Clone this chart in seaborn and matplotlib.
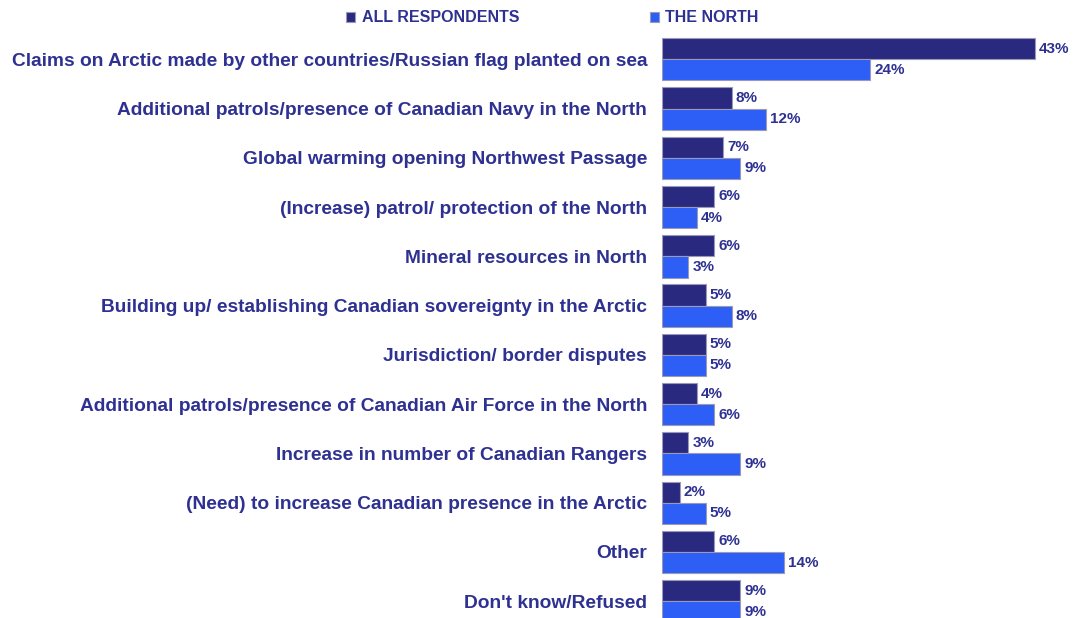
import pandas as pd
import matplotlib
matplotlib.use("Agg")
import matplotlib.pyplot as plt
import seaborn as sns

categories = [
    "Claims on Arctic made by other countries/Russian flag planted on sea",
    "Additional patrols/presence of Canadian Navy in the North",
    "Global warming opening Northwest Passage",
    "(Increase) patrol/ protection of the North",
    "Mineral resources in North",
    "Building up/ establishing Canadian sovereignty in the Arctic",
    "Jurisdiction/ border disputes",
    "Additional patrols/presence of Canadian Air Force in the North",
    "Increase in number of Canadian Rangers",
    "(Need) to increase Canadian presence in the Arctic",
    "Other",
    "Don't know/Refused",
]
all_respondents = [43, 8, 7, 6, 6, 5, 5, 4, 3, 2, 6, 9]
the_north = [24, 12, 9, 4, 3, 8, 5, 6, 9, 5, 14, 9]
groups = ["ALL RESPONDENTS", "THE NORTH"]

df = pd.DataFrame({
    "category": categories * 2,
    "value": all_respondents + the_north,
    "group": [groups[0]] * len(categories) + [groups[1]] * len(categories),
})

text_color = "#2e3192"
palette = {groups[0]: "#2a2980", groups[1]: "#2d5ef5"}

sns.set_theme(style="white")
plt.rcParams["font.family"] = ["Liberation Sans", "DejaVu Sans"]
plt.rcParams["font.weight"] = "bold"

fig = plt.figure(figsize=(10.77, 6.18), dpi=100)
ax = fig.add_axes([0.615, 0.0, 0.378, 0.944])

sns.barplot(data=df, y="category", x="value", hue="group", orient="h",
            palette=palette, saturation=1, width=0.86, edgecolor="#9a9ab8",
            linewidth=0.8, ax=ax)

for cont in ax.containers:
    ax.bar_label(cont, fmt="{:.0f}%", padding=3, fontsize=11,
                 fontweight="bold", color=text_color)

ax.set_xlim(0, 47)
ax.set_ylim(11.34, -0.5)
ax.set_xlabel("")
ax.set_ylabel("")
ax.set_xticks([])
ax.tick_params(axis="y", length=0, pad=11)
for lbl in ax.get_yticklabels():
    lbl.set_fontsize(13.8)
    lbl.set_fontweight("bold")
    lbl.set_color(text_color)
sns.despine(ax=ax, left=True, bottom=True)

handles, labels = ax.get_legend_handles_labels()
ax.get_legend().remove()
leg = fig.legend(handles, labels, loc="center", bbox_to_anchor=(0.513, 0.971),
                 ncol=2, frameon=False, handlelength=0.55, handleheight=0.55,
                 handletextpad=0.4, columnspacing=8.2, fontsize=11.5)
for t in leg.get_texts():
    t.set_color(text_color)
    t.set_fontweight("bold")

fig.savefig("out.png", dpi=100)
